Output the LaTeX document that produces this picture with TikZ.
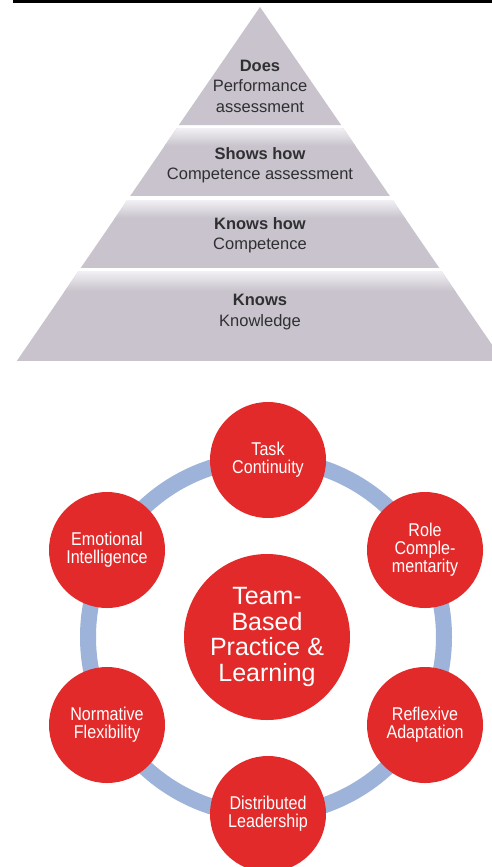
\documentclass[tikz,border=0pt]{standalone}
\usepackage{fontspec}
\setmainfont{Liberation Sans}
\newfontfamily\narrowfont[FakeStretch=0.87]{Liberation Sans}
\definecolor{tiergray}{RGB}{200,195,204}
\definecolor{tierlight}{RGB}{242,240,244}
\definecolor{ptext}{RGB}{48,48,50}
\definecolor{cred}{RGB}{227,42,42}
\definecolor{ringc}{RGB}{158,179,217}
\tikzset{
  ptxt/.style={align=center,text=ptext,font=\fontsize{16.5}{20.5}\selectfont,inner sep=0pt},
  smallc/.style={circle,fill=cred,minimum size=116pt,inner sep=0pt,text=white,align=center,font=\narrowfont\fontsize{18.5}{18}\selectfont},
  bigc/.style={circle,fill=cred,minimum size=166pt,inner sep=0pt,text=white,align=center,font=\fontsize{25}{25.7}\selectfont},
  ring/.style={draw=ringc,line width=16pt}
}
\begin{document}
\begin{tikzpicture}[x=1pt,y=-1pt]
\clip (0,0) rectangle (492,867);
\fill[white] (0,0) rectangle (492,867);
\fill[black] (13,0) rectangle (492,3);
% pyramid tiers
\fill[tiergray] (260,7) -- (341.1,125) -- (178.9,125) -- cycle;
\begin{scope}
\clip (176.9,128) -- (343.1,128) -- (389.8,196) -- (130.2,196) -- cycle;
\fill[tiergray] (0,128) rectangle (492,196);
\shade[top color=tierlight,bottom color=tiergray] (0,128) rectangle (492,146);
\end{scope}
\begin{scope}
\clip (127.4,200) -- (392.6,200) -- (439.3,268) -- (80.7,268) -- cycle;
\fill[tiergray] (0,200) rectangle (492,268);
\shade[top color=tierlight,bottom color=tiergray] (0,200) rectangle (492,218);
\end{scope}
\begin{scope}
\clip (78.6,271) -- (441.4,271) -- (503.2,361) -- (16.8,361) -- cycle;
\fill[tiergray] (0,271) rectangle (510,361);
\shade[top color=tierlight,bottom color=tiergray] (0,271) rectangle (510,291);
\end{scope}
\node[ptxt] (does) at (260,86) {{\bfseries Does}\\Performance\\assessment};
\node[ptxt] (shows) at (260,165) {{\bfseries Shows how}\\Competence assessment};
\node[ptxt] (knowshow) at (260,235) {{\bfseries Knows how}\\Competence};
\node[ptxt] (knows) at (260,312) {{\bfseries Knows}\\Knowledge};
% cycle
\draw[ring] (266,637) circle (178);
\node[bigc] (center) at (267,637) {Team-\\Based\\Practice \&\\Learning};
\node[smallc] (task) at (268,460) {Task\\Continuity};
\node[smallc] (role) at (425,550) {Role\\Comple-\\mentarity};
\node[smallc] (refl) at (425,725) {Reflexive\\Adaptation};
\node[smallc] (dist) at (268,814) {Distributed\\Leadership};
\node[smallc] (norm) at (107,725) {Normative\\Flexibility};
\node[smallc] (emo) at (107,550) {Emotional\\Intelligence};
\end{tikzpicture}
\end{document}
